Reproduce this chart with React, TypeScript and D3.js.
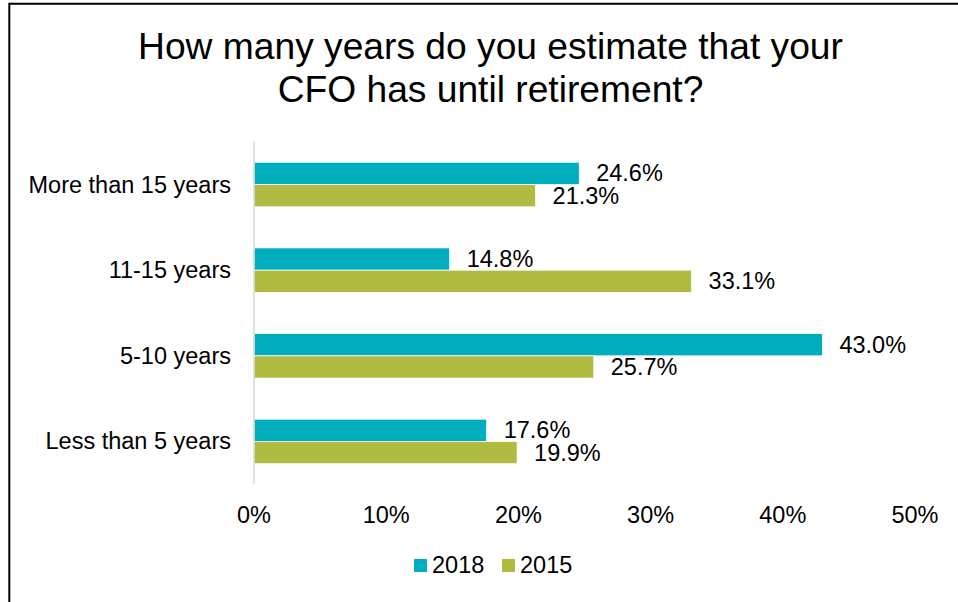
import React from "react";
import * as d3 from "d3";

const categories = ["More than 15 years", "11-15 years", "5-10 years", "Less than 5 years"];
const seriesNames = ["2018", "2015"];
const values2018 = [24.6, 14.8, 43.0, 17.6];
const values2015 = [21.3, 33.1, 25.7, 19.9];
const xTicks = [0, 10, 20, 30, 40, 50];
const colors = ["#00AEBE", "#B0BC41"];
const titleLines = ["How many years do you estimate that your", "CFO has until retirement?"];

export default function App() {
  const W = 958, H = 602;
  const x = d3.scaleLinear().domain([0, 50]).range([254, 915]);
  const y = d3.scaleBand().domain(categories).range([141.7, 484.3]).paddingInner(0.48).paddingOuter(0.24);
  const sub = d3.scaleBand().domain(seriesNames).range([0, y.bandwidth()]);
  const series = [values2018, values2015];
  const font = "Liberation Sans, Arial, sans-serif";
  const fs = 23.5;
  return (
    <svg width={W} height={H} style={{ position: "absolute", left: 0, top: 0, fontFamily: font }}>
      <rect x={0} y={0} width={W} height={H} fill="#fff" />
      <path d="M9.3,610 V3.7 H970" fill="none" stroke="#000" strokeWidth={2} />
      {titleLines.map((t, i) => (
        <text key={i} x={490.5} y={59 + i * 43} textAnchor="middle" fontSize={37.2} fill="#000">{t}</text>
      ))}
      {categories.map((c, ci) => (
        <g key={c}>
          {series.map((vals, si) => {
            const y0 = (y(c) as number) + (sub(seriesNames[si]) as number);
            return (
              <g key={si}>
                <rect x={x(0)} y={y0} width={x(vals[ci]) - x(0)} height={sub.bandwidth()} fill={colors[si]} stroke="#fff" strokeWidth={0.75} />
                <text x={x(vals[ci]) + 17} y={y0 + sub.bandwidth() / 2 + 8} fontSize={fs} fill="#000">{vals[ci].toFixed(1) + "%"}</text>
              </g>
            );
          })}
          <text x={231} y={(y(c) as number) + y.bandwidth() / 2 + 8} textAnchor="end" fontSize={fs} fill="#000">{c}</text>
        </g>
      ))}
      <line x1={x(0)} x2={x(0)} y1={141.7} y2={484.3} stroke="#D9D9D9" strokeWidth={1.5} />
      {xTicks.map((t) => (
        <text key={t} x={x(t)} y={522.5} textAnchor="middle" fontSize={fs} fill="#000">{t + "%"}</text>
      ))}
      {seriesNames.map((s, i) => (
        <g key={s} transform={`translate(${414 + i * 88},0)`}>
          <rect x={0} y={559} width={13} height={13} fill={colors[i]} />
          <text x={18} y={573} fontSize={fs} fill="#000">{s}</text>
        </g>
      ))}
    </svg>
  );
}
